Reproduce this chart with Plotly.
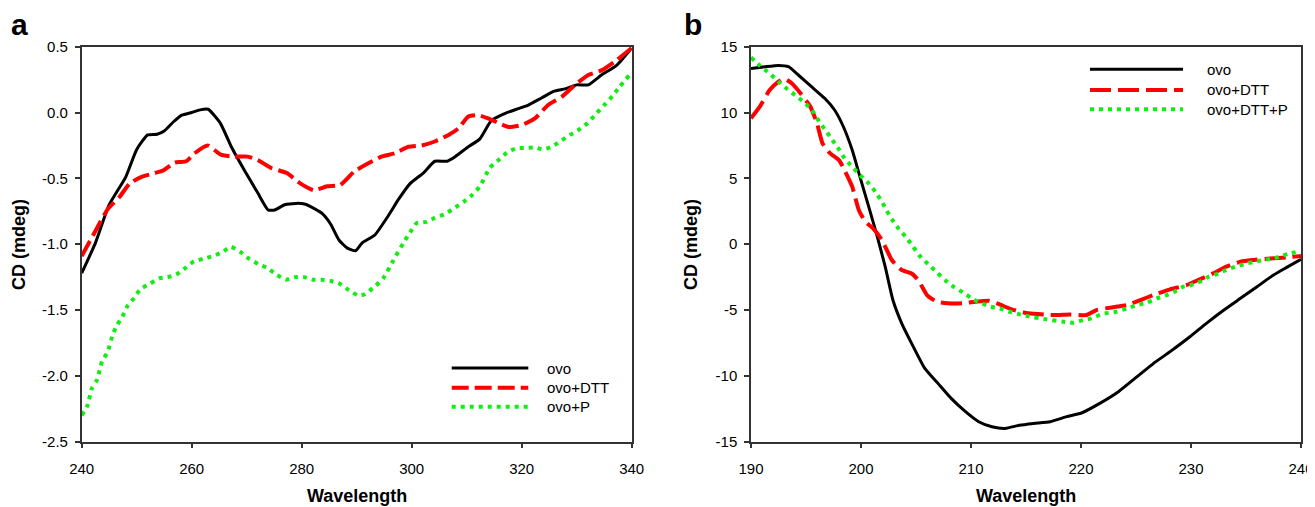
import plotly.graph_objects as go

# page offset (browser body margin) compensation
OFF = 8
W, H = 1315 - OFF, 507 - OFF

# ---------------- Panel a data ----------------
a_ovo_x = [240, 242.5, 245, 248, 250, 252, 253.7, 255, 256.7, 258.2, 260, 261.5, 263, 265.2, 267.2, 269.6,
           272, 273.9, 275.1, 276.9, 279, 280.5, 282.3, 283.8, 285.3, 286.8, 288.3, 289.8, 291, 293.3, 295.8,
           297.6, 299.7, 302.1, 304.2, 306.4, 307.9, 310.3, 312.4, 314.5, 317, 319.4, 321.2, 323.6, 325.8,
           327.9, 330, 332.1, 334.5, 337.3, 340]
a_ovo_y = [-1.22, -0.99, -0.70, -0.49, -0.28, -0.17, -0.165, -0.14, -0.07, -0.02, 0.0, 0.02, 0.025, -0.08,
           -0.26, -0.44, -0.61, -0.74, -0.74, -0.70, -0.69, -0.695, -0.73, -0.77, -0.85, -0.97, -1.03, -1.05,
           -0.99, -0.93, -0.78, -0.66, -0.54, -0.46, -0.37, -0.37, -0.335, -0.26, -0.20, -0.06, -0.006, 0.03,
           0.057, 0.11, 0.16, 0.18, 0.21, 0.21, 0.285, 0.36, 0.49]

a_dtt_x = [240, 242.1, 244.8, 246.9, 248.7, 250.8, 253.3, 254.8, 256.9, 259, 260.5, 262.9, 265.3, 267.7,
           270.2, 272, 274.4, 277.3, 279.8, 282.2, 284.6, 287, 289.5, 292.1, 294.5, 296.9, 299.4, 301.8,
           304.2, 306.7, 308.5, 310.3, 312.1, 313.9, 315.8, 317.6, 320, 322.4, 324.8, 327.3, 329.7, 332.1,
           334.5, 336.9, 340]
a_dtt_y = [-1.09, -0.93, -0.73, -0.64, -0.54, -0.49, -0.46, -0.44, -0.38, -0.37, -0.31, -0.25, -0.32,
           -0.335, -0.335, -0.36, -0.42, -0.46, -0.54, -0.59, -0.56, -0.55, -0.45, -0.386, -0.335, -0.31,
           -0.26, -0.25, -0.22, -0.17, -0.12, -0.03, -0.02, -0.045, -0.08, -0.11, -0.095, -0.045, 0.057,
           0.12, 0.21, 0.285, 0.32, 0.386, 0.49]

a_p_x = [240, 241, 241.9, 242.8, 243.7, 244.7, 245.7, 246.5, 247.4, 248.3, 249.5, 250.7, 252.4, 254.1,
         255.6, 257.2, 258.9, 260.4, 262.2, 263.9, 265.6, 267.1, 268.9, 270.4, 272.1, 273.7, 275.4, 277.1,
         278.7, 280.4, 282.1, 283.6, 285.3, 286.9, 288.6, 290.3, 291.5, 293.3, 294.8, 296.7, 298.5, 299.7,
         300.9, 302.7, 304.2, 306.1, 307.6, 309.4, 310.9, 312.4, 314.2, 315.8, 317.3, 319.1, 320.7, 322.4,
         323.9, 325.5, 327.3, 328.8, 330.4, 332, 333.5, 335, 336.5, 337.8, 339.5]
a_p_y = [-2.30, -2.23, -2.09, -2.03, -1.89, -1.82, -1.68, -1.61, -1.55, -1.47, -1.41, -1.34, -1.30, -1.26,
         -1.25, -1.23, -1.18, -1.13, -1.11, -1.09, -1.06, -1.02, -1.06, -1.11, -1.15, -1.18, -1.23, -1.27,
         -1.25, -1.25, -1.27, -1.27, -1.28, -1.30, -1.35, -1.39, -1.38, -1.32, -1.26, -1.12, -0.99, -0.91,
         -0.84, -0.83, -0.80, -0.77, -0.73, -0.68, -0.63, -0.56, -0.42, -0.36, -0.305, -0.27, -0.27, -0.265,
         -0.28, -0.26, -0.21, -0.17, -0.13, -0.08, -0.01, 0.057, 0.125, 0.196, 0.28]

a_xticks = [240, 260, 280, 300, 320, 340]
a_yticks = [0.5, 0.0, -0.5, -1.0, -1.5, -2.0, -2.5]
a_yticklabels = ["0.5", "0.0", "-0.5", "-1.0", "-1.5", "-2.0", "-2.5"]
a_names = ["ovo", "ovo+DTT", "ovo+P"]

# ---------------- Panel b data ----------------
b_ovo_x = [190, 191.3, 192.5, 193.4, 194.3, 195.5, 196.7, 197.6, 198.4, 199.2, 199.9, 200.7, 201.4, 202.2,
           202.9, 203.7, 204.6, 205.8, 207, 208.2, 209.5, 210.7, 211.9, 213.1, 214.4, 215.7, 217.2, 218.7,
           220.1, 221.7, 223.4, 225.1, 226.6, 228.1, 229.9, 231.4, 232.9, 234.5, 236, 237.5, 238.7, 240]
b_ovo_y = [13.35, 13.48, 13.58, 13.48, 12.85, 11.96, 11.08, 10.19, 8.92, 7.15, 5.13, 2.85, 0.82, -1.71,
           -4.24, -6.01, -7.53, -9.43, -10.57, -11.71, -12.72, -13.48, -13.86, -13.99, -13.75, -13.61,
           -13.48, -13.1, -12.8, -12.09, -11.2, -10.06, -9.05, -8.16, -7.03, -6.01, -5.05, -4.11, -3.23,
           -2.34, -1.76, -1.15]

b_dtt_x = [190, 190.8, 191.7, 192.5, 193, 193.7, 194.5, 195.4, 196, 196.5, 197.2, 198, 198.5, 199.2,
           199.8, 200.4, 201.1, 201.9, 202.8, 203.7, 204.6, 205.2, 206, 206.9, 207.9, 209.2, 210.4, 211.6,
           212.5, 213.7, 215.2, 217.5, 219, 220.5, 221.4, 222.8, 224.2, 225.4, 226.6, 228.1, 229.6, 230.8,
           232, 233.2, 234.5, 235.7, 237.2, 238.7, 240]
b_dtt_y = [9.56, 10.44, 11.71, 12.34, 12.59, 12.22, 11.46, 10.44, 9.18, 7.66, 6.9, 6.39, 5.63, 4.37, 2.6,
           1.71, 1.2, 0.32, -1.2, -1.96, -2.22, -2.72, -3.86, -4.37, -4.49, -4.49, -4.37, -4.29, -4.54,
           -4.95, -5.25, -5.38, -5.33, -5.38, -5.0, -4.8, -4.62, -4.24, -3.86, -3.43, -3.1, -2.67, -2.22,
           -1.71, -1.33, -1.2, -1.08, -1.0, -0.9]

b_p_x = [190, 190.8, 191.7, 192.5, 193.3, 194.2, 195, 195.7, 196.2, 196.8, 197.4, 198, 198.5, 199.2,
         199.9, 200.7, 201.3, 201.9, 202.3, 202.8, 203.4, 204.1, 204.7, 205.3, 206.1, 206.9, 207.7, 208.5,
         209.4, 210.2, 211, 211.8, 212.6, 213.5, 214.3, 215.3, 216.9, 218.4, 219.3, 220.2, 221, 221.9,
         223.2, 224.2, 225.1, 226, 226.9, 227.8, 228.5, 229.3, 230, 230.8, 231.6, 232.5, 233.2, 234.2,
         235.1, 235.8, 236.6, 237.5, 238.2, 239, 239.8]
b_p_y = [14.19, 13.56, 12.97, 12.34, 11.78, 11.2, 10.65, 9.99, 9.3, 8.62, 7.91, 7.2, 6.52, 5.89, 5.25,
         4.62, 3.99, 3.23, 2.6, 1.91, 1.2, 0.52, -0.14, -0.85, -1.51, -2.14, -2.77, -3.28, -3.73, -4.19,
         -4.49, -4.75, -4.87, -5.13, -5.3, -5.5, -5.71, -5.89, -5.96, -5.76, -5.63, -5.3, -5.13, -4.87,
         -4.62, -4.44, -4.11, -3.86, -3.61, -3.23, -3.1, -2.85, -2.47, -2.22, -1.96, -1.66, -1.46, -1.33,
         -1.2, -1.08, -0.9, -0.7, -0.57]

b_xticks = [190, 200, 210, 220, 230, 240]
b_yticks = [15, 10, 5, 0, -5, -10, -15]
b_yticklabels = ["15", "10", "5", "0", "-5", "-10", "-15"]
b_names = ["ovo", "ovo+DTT", "ovo+DTT+P"]

# ---------------- styles ----------------
BLACK = "#000000"
RED = "#ff0000"
GREEN = "#11ee11"
FONT = "Liberation Sans, Arial, sans-serif"
AXC = "#333333"

def px_x(v):
    return (v - OFF) / W

def px_y(v):
    return 1 - (v - OFF) / H

# plot areas in screen pixels
A_L, A_R, TOP, BOT = 81.7, 631.7, 46.7, 441.7
B_L, B_R = 751.0, 1301.0

fig = go.Figure()

a_styles = [
    dict(color=BLACK, width=3),
    dict(color=RED, width=4, dash="17px,6px"),
    dict(color=GREEN, width=4, dash="4px,5px"),
]
b_styles = [
    dict(color=BLACK, width=3),
    dict(color=RED, width=4, dash="21px,7px"),
    dict(color=GREEN, width=4, dash="4px,5px"),
]

for (xs, ys), st, nm in zip([(a_ovo_x, a_ovo_y), (a_dtt_x, a_dtt_y), (a_p_x, a_p_y)], a_styles, a_names):
    fig.add_trace(go.Scatter(x=xs, y=ys, mode="lines", name=nm, line=dict(shape="spline", smoothing=0.5, **st),
                             xaxis="x", yaxis="y", showlegend=False))
for (xs, ys), st, nm in zip([(b_ovo_x, b_ovo_y), (b_dtt_x, b_dtt_y), (b_p_x, b_p_y)], b_styles, b_names):
    fig.add_trace(go.Scatter(x=xs, y=ys, mode="lines", name=nm, line=dict(shape="spline", smoothing=0.5, **st),
                             xaxis="x2", yaxis="y2", showlegend=False))

common_axis = dict(showline=True, linecolor=AXC, linewidth=1.5, mirror=True, ticks="outside", ticklen=5,
                   tickwidth=1.5, tickcolor=AXC, showgrid=False, zeroline=False, automargin=False,
                   tickfont=dict(family=FONT, size=15, color="#000"))

fig.update_layout(
    width=W, height=H, margin=dict(l=0, r=0, t=0, b=0, autoexpand=False),
    paper_bgcolor="white", plot_bgcolor="white",
    xaxis=dict(domain=[px_x(A_L), px_x(A_R)], range=[240, 340], tickvals=a_xticks, anchor="y",
               ticklabelstandoff=8, **common_axis),
    yaxis=dict(domain=[px_y(BOT), px_y(TOP)], range=[-2.5, 0.5], tickvals=a_yticks, ticktext=a_yticklabels,
               anchor="x", ticklabelstandoff=4, **common_axis),
    xaxis2=dict(domain=[px_x(B_L), px_x(B_R)], range=[190, 240], tickvals=b_xticks, anchor="y2",
                ticklabelstandoff=8, **common_axis),
    yaxis2=dict(domain=[px_y(BOT), px_y(TOP)], range=[-15, 15], tickvals=b_yticks, ticktext=b_yticklabels,
                anchor="x2", ticklabelstandoff=4, **common_axis),
)

ann = []
# panel letters
ann.append(dict(text="<b>a</b>", x=px_x(19.5), y=px_y(24), xref="paper", yref="paper", showarrow=False,
                font=dict(family=FONT, size=30, color="#000"), xanchor="center", yanchor="middle"))
ann.append(dict(text="<b>b</b>", x=px_x(693), y=px_y(24), xref="paper", yref="paper", showarrow=False,
                font=dict(family=FONT, size=30, color="#000"), xanchor="center", yanchor="middle"))
# axis titles
for xc in [19, 691]:
    ann.append(dict(text="<b>CD (mdeg)</b>", x=px_x(xc), y=px_y(245), xref="paper", yref="paper",
                    showarrow=False, textangle=-90, font=dict(family=FONT, size=18, color="#000"),
                    xanchor="center", yanchor="middle"))
for xc in [(A_L + A_R) / 2, (B_L + B_R) / 2]:
    ann.append(dict(text="<b>Wavelength</b>", x=px_x(xc), y=px_y(496), xref="paper", yref="paper",
                    showarrow=False, font=dict(family=FONT, size=18, color="#000"),
                    xanchor="center", yanchor="middle"))

shapes = []
# legends
leg_a = dict(x0=451.7, x1=528.3, tx=545, ys=[368, 387.7, 406.7])
leg_b = dict(x0=1090, x1=1183, tx=1205, ys=[69.3, 90, 109.3])
for leg, styles, names in [(leg_a, a_styles, a_names), (leg_b, b_styles, b_names)]:
    for yy, st, nm in zip(leg["ys"], styles, names):
        shapes.append(dict(type="line", xref="paper", yref="paper", x0=px_x(leg["x0"]), x1=px_x(leg["x1"]),
                           y0=px_y(yy), y1=px_y(yy), line=st))
        ann.append(dict(text=nm, x=px_x(leg["tx"]), y=px_y(yy), xref="paper", yref="paper", showarrow=False,
                        font=dict(family=FONT, size=15, color="#000"), xanchor="left", yanchor="middle"))

fig.update_layout(annotations=ann, shapes=shapes)
fig.write_html("out.html")
